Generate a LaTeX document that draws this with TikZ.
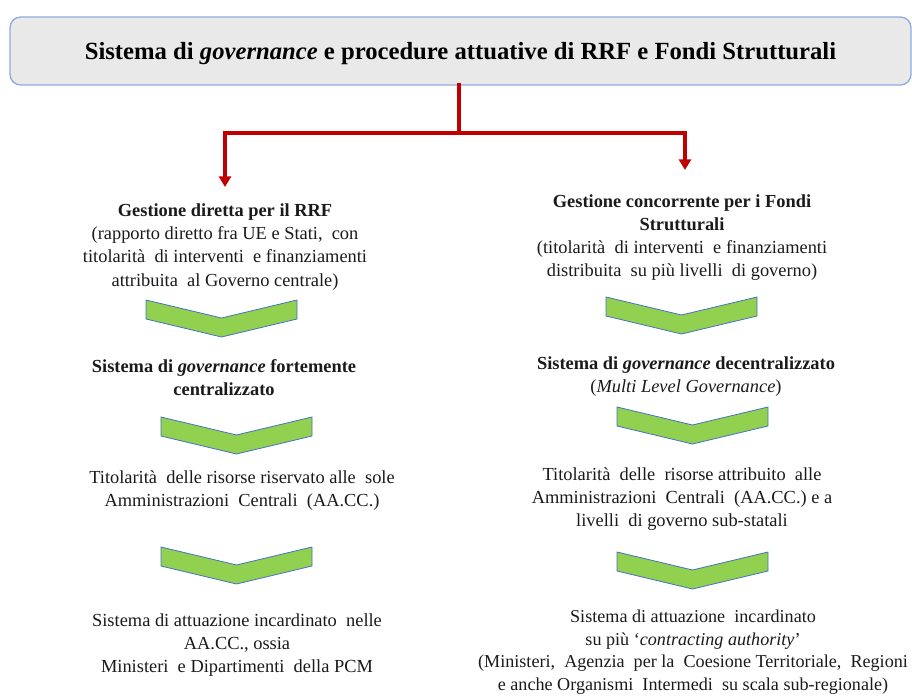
\documentclass[tikz,border=0pt]{standalone}
\usepackage{fontspec}
\setmainfont{Liberation Serif}
\usepackage{tikz}
\usetikzlibrary{arrows.meta, positioning, calc}
\definecolor{TitleGray}{HTML}{E9E9E9}
\definecolor{TitleBorder}{HTML}{8FAADC}
\definecolor{FlowRed}{HTML}{C00000}
\definecolor{ChevGreen}{HTML}{92D050}
\definecolor{ChevBorder}{HTML}{4472C4}
\definecolor{BodyText}{HTML}{1A1A1A}
\tikzset{
  % Box styles
  titlebox/.style={rectangle, rounded corners=8pt, draw=TitleBorder, line width=1pt, fill=TitleGray, minimum width=675.75pt, minimum height=51pt, text depth=0pt, font=\fontsize{18.5}{21}\selectfont\bfseries, align=center},
  textblock/.style={inner sep=0pt, align=center, text=BodyText, font=\fontsize{13.8}{17.3}\selectfont},
  % Arrow styles
  redline/.style={FlowRed, line width=3pt},
  redarrow/.style={-{Triangle[width=9pt,length=8pt]}, FlowRed, line width=3pt},
  % Shape styles
  chevron/.style={draw=ChevBorder, line width=0.6pt, fill=ChevGreen, line join=miter}
}
% chevron with top-left corner at (#1,#2)
\newcommand{\chev}[2]{\draw[chevron] (#1,#2) -- ++(75.5,18) -- ++(75.5,-18) -- ++(0,19) -- ++(-75.5,18) -- ++(-75.5,-18) -- cycle;}

\begin{document}
\begin{tikzpicture}[x=0.75pt, y=-0.75pt]
  \useasboundingbox (0,0) rectangle (912,695);

  % Title
  \node[titlebox] (title) at (460.5,51) {Sistema di \textit{governance} e procedure attuative di RRF e Fondi Strutturali};

  % Left column
  \node[textblock] (headL) at (225,247) {\textbf{Gestione diretta per il RRF}\\(rapporto diretto fra UE e Stati, \ con\\titolarità \ di interventi \ e finanziamenti\\attribuita \ al Governo centrale)};
  \node[textblock, font=\fontsize{13.8}{17.3}\selectfont\bfseries] (sysL) at (224,378) {Sistema di \textit{governance} fortemente\\centralizzato};
  \node[textblock] (titL) at (242,491) {Titolarità \ delle risorse riservato alle \ sole\\Amministrazioni \ Centrali \ (AA.CC.)};
  \node[textblock] (attL) at (237,645) {Sistema di attuazione incardinato \ nelle\\AA.CC., ossia\\Ministeri \ e Dipartimenti \ della PCM};

  % Right column
  \node[textblock] (headR) at (682,238) {\textbf{Gestione concorrente per i Fondi}\\\textbf{Strutturali}\\(titolarità \ di interventi \ e finanziamenti\\distribuita \ su più livelli \ di governo)};
  \node[textblock] (sysR) at (686,377) {\textbf{Sistema di \textit{governance} decentralizzato}\\(\textit{Multi Level Governance})};
  \node[textblock] (titR) at (682,499) {Titolarità \ delle \ risorse attribuito \ alle\\Amministrazioni \ Centrali \ (AA.CC.) e a\\livelli \ di governo sub-statali};
  \node[textblock, font=\fontsize{13.6}{16.9}\selectfont] (attR) at (693,652) {Sistema di attuazione \ incardinato\\su più ‘\textit{contracting authority}’\\(Ministeri, \ Agenzia \ per la \ Coesione Territoriale, \ Regioni\\e anche Organismi \ Intermedi \ su scala sub-regionale)};

  % Chevrons
  \chev{146}{300}
  \chev{161}{417}
  \chev{161}{547}
  \chev{606}{297}
  \chev{617}{407}
  \chev{617}{552}

  % Arrows
  \coordinate (split) at (459,133);
  \coordinate (tipL) at (225,187);
  \coordinate (tipR) at (685,170);
  \draw[redline] ([yshift=2pt]title.south -| split) -- (split);
  \draw[redarrow] ([xshift=1.5pt]split) -| (tipL);
  \draw[redarrow] ([xshift=-1.5pt]split) -| (tipR);
\end{tikzpicture}
\end{document}
